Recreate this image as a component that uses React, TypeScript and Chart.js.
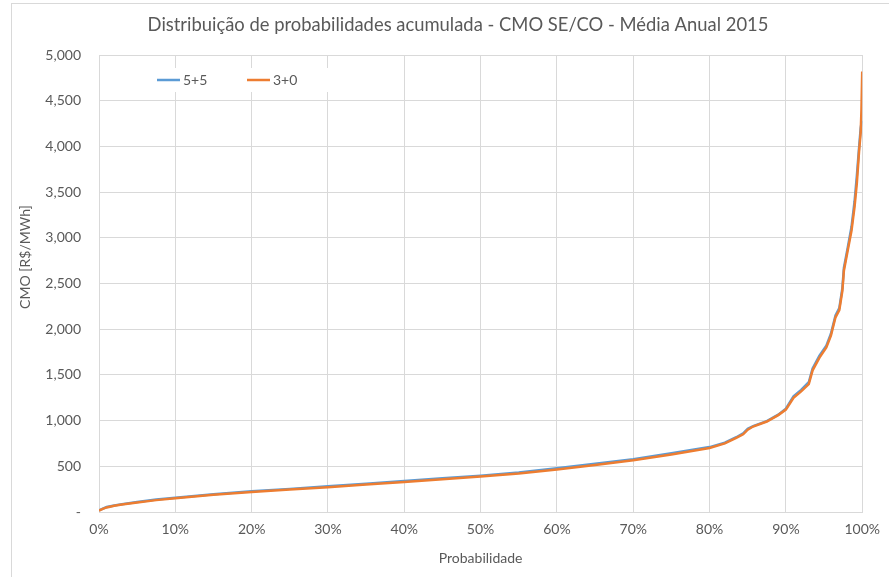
import React, { useEffect, useRef } from "react";
import { Chart, registerables } from "chart.js";

Chart.register(...registerables);

const chartTitle = "Distribuição de probabilidades acumulada - CMO SE/CO - Média Anual 2015";
const xAxisTitle = "Probabilidade";
const yAxisTitle = "CMO [R$/MWh]";
const seriesNames = ["5+5", "3+0"];

// cumulative probability (%)
const probs = [
  0, 0.5, 1, 2, 3, 5, 7.5, 10, 15, 20, 25, 30, 35, 40, 45, 50, 55, 60, 65, 70, 75, 80, 82, 83.5,
  84.4, 85, 85.7, 87.5, 89, 90, 91, 92, 93, 93.5, 94.4, 95.3, 95.9, 96.5, 97, 97.4, 97.6, 98.1,
  98.6, 99, 99.3, 99.6, 99.8, 99.9, 100,
];

// CMO values for "5+5"
const values55 = [
  18, 38, 54, 72, 86, 110, 136, 157, 195, 226, 253, 281, 309, 338, 368, 398, 432, 478, 528, 578,
  643, 710, 758, 818, 860, 910, 940, 995, 1065, 1130, 1265, 1335, 1420, 1570, 1710, 1820, 1950,
  2150, 2230, 2450, 2670, 2890, 3120, 3400, 3680, 4000, 4200, 4250, 4280,
];

// CMO values for "3+0"
const values30 = [
  15, 35, 50, 68, 82, 105, 130, 150, 188, 218, 245, 272, 300, 328, 358, 388, 420, 465, 515, 565,
  630, 700, 750, 810, 850, 900, 935, 990, 1060, 1120, 1250, 1320, 1400, 1550, 1690, 1800, 1930,
  2130, 2210, 2420, 2640, 2860, 3080, 3340, 3600, 3960, 4150, 4400, 4820,
];

const xTicks = [0, 10, 20, 30, 40, 50, 60, 70, 80, 90, 100];

const BLUE = "#5B9BD5";
const ORANGE = "#ED7D31";
const TEXT = "#595959";
const GRID = "#d9d9d9";
const FONT = "Lato, 'Open Sans', sans-serif";

const textPlugin = {
  id: "customText",
  afterDatasetsDraw(chart: any) {
    const ctx = chart.ctx as CanvasRenderingContext2D;
    const area = chart.chartArea;
    ctx.save();
    // title
    ctx.fillStyle = TEXT;
    ctx.font = `18.4px ${FONT}`;
    ctx.textAlign = "center";
    ctx.textBaseline = "middle";
    ctx.fillText(chartTitle, 458, 25);
    // x title
    ctx.font = `14px ${FONT}`;
    ctx.fillText(xAxisTitle, (area.left + area.right) / 2, 558);
    // y title
    ctx.save();
    ctx.translate(25, 257);
    ctx.rotate(-Math.PI / 2);
    ctx.fillText(yAxisTitle, 0, 0);
    ctx.restore();
    // legend
    ctx.fillStyle = "#ffffff";
    ctx.fillRect(140, 68, 200, 24);
    const items = [
      { name: seriesNames[0], color: BLUE, x: 157 },
      { name: seriesNames[1], color: ORANGE, x: 247 },
    ];
    ctx.textAlign = "left";
    ctx.font = `14px ${FONT}`;
    for (const it of items) {
      ctx.strokeStyle = it.color;
      ctx.lineWidth = 2.5;
      ctx.beginPath();
      ctx.moveTo(it.x, 80);
      ctx.lineTo(it.x + 23, 80);
      ctx.stroke();
      ctx.fillStyle = TEXT;
      ctx.fillText(it.name, it.x + 26, 80);
    }
    ctx.restore();
  },
};

export default function App() {
  const ref = useRef<HTMLCanvasElement | null>(null);
  useEffect(() => {
    if (!ref.current) return;
    const chart = new Chart(ref.current, {
      type: "line",
      data: {
        datasets: [
          {
            label: seriesNames[0],
            data: probs.map((p, i) => ({ x: p, y: values55[i] })),
            borderColor: BLUE,
            backgroundColor: BLUE,
            borderWidth: 2.5,
            pointRadius: 0,
            tension: 0,
            order: 2,
          },
          {
            label: seriesNames[1],
            data: probs.map((p, i) => ({ x: p, y: values30[i] })),
            borderColor: ORANGE,
            backgroundColor: ORANGE,
            borderWidth: 2.5,
            pointRadius: 0,
            tension: 0,
            order: 1,
          },
        ],
      },
      options: {
        responsive: false,
        animation: false,
        layout: { padding: { top: 55, right: 23, left: 0, bottom: 0 } },
        plugins: {
          legend: { display: false },
          title: { display: false },
          tooltip: { enabled: false },
        },
        scales: {
          x: {
            type: "linear",
            min: 0,
            max: 100,
            afterBuildTicks: (scale: any) => {
              scale.ticks = xTicks.map((v) => ({ value: v }));
            },
            afterFit: (scale: any) => {
              scale.height = 65;
            },
            ticks: {
              callback: (v: any) => `${v}%`,
              color: TEXT,
              font: { family: FONT, size: 14 },
              padding: 9,
              maxRotation: 0,
            },
            grid: { color: GRID, lineWidth: 1, drawTicks: false },
            border: { color: GRID },
          },
          y: {
            min: 0,
            max: 5000,
            ticks: {
              stepSize: 500,
              callback: (v: any) => (v === 0 ? "-" : Number(v).toLocaleString("en-US")),
              color: TEXT,
              font: { family: FONT, size: 14 },
              padding: 18,
            },
            afterFit: (scale: any) => {
              scale.width = 99;
            },
            grid: { color: GRID, lineWidth: 1, drawTicks: false },
            border: { display: false },
          },
        },
      },
      plugins: [textPlugin],
    });
    return () => chart.destroy();
  }, []);
  return (
    <div style={{ position: "absolute", left: 0, top: 0, width: 889, height: 577, background: "#fff", overflow: "hidden" }}>
      <div
        style={{
          position: "absolute",
          left: 11,
          top: 3,
          width: 900,
          height: 600,
          border: `1px solid ${GRID}`,
          boxSizing: "border-box",
        }}
      />
      <canvas ref={ref} width={889} height={577} style={{ position: "absolute", left: 0, top: 0 }} />
    </div>
  );
}
